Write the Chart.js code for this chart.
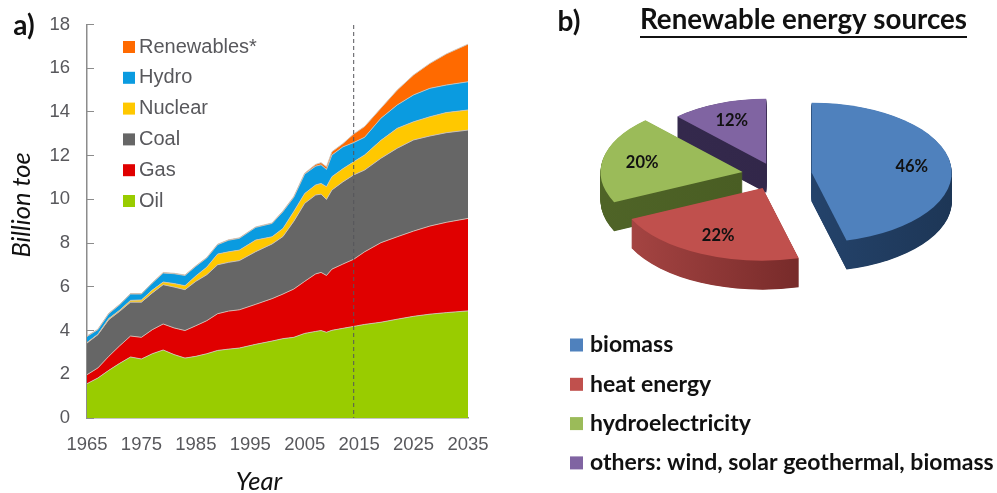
<!DOCTYPE html>
<html><head><meta charset="utf-8">
<style>html,body{margin:0;padding:0;background:#fff;overflow:hidden}
canvas{position:absolute;top:0;left:0}</style>
<script src="https://cdn.jsdelivr.net/npm/chart.js@4"></script>
</head><body>
<div style="position:absolute;left:0;top:0;width:520px;height:493px"><canvas id="a" width="520" height="493"></canvas></div>
<div style="position:absolute;left:497px;top:0;width:500px;height:493px"><canvas id="b" width="500" height="493"></canvas></div>
<script>
const years=[1965,1967,1969,1971,1973,1975,1977,1979,1981,1983,1985,1987,1989,1991,1993,1996,1999,2001,2003,2005,2007,2008,2009,2010,2012,2014,2016,2019,2022,2025,2028,2031,2035];
const oil=[1.57,1.83,2.18,2.5,2.79,2.7,2.94,3.11,2.9,2.74,2.82,2.94,3.09,3.15,3.2,3.37,3.52,3.63,3.69,3.87,3.96,4.0,3.92,4.01,4.1,4.19,4.28,4.38,4.52,4.65,4.75,4.82,4.9];
const gas=[.41,.46,.64,.8,.96,.99,1.1,1.19,1.22,1.26,1.4,1.51,1.68,1.74,1.75,1.83,1.94,2.04,2.21,2.38,2.63,2.66,2.6,2.8,2.94,3.07,3.32,3.64,3.77,3.9,4.03,4.13,4.23];
const coal=[1.45,1.52,1.68,1.58,1.55,1.61,1.68,1.8,1.87,1.87,2.03,2.1,2.24,2.23,2.25,2.41,2.5,2.63,3.1,3.57,3.61,3.58,3.48,3.62,3.76,3.86,3.74,3.86,4.05,4.17,4.12,4.1,4.04];
const nuclear=[.02,.02,.05,.05,.08,.1,.13,.12,.16,.18,.25,.35,.49,.48,.48,.53,.33,.37,.45,.45,.46,.49,.58,.61,.6,.6,.69,.82,.91,.83,.88,.92,.92];
const hydro=[.28,.21,.22,.25,.29,.27,.32,.41,.45,.47,.44,.42,.43,.53,.54,.58,.61,.77,.65,.89,.86,.85,.79,.99,1.0,.88,.81,1.01,1.07,1.23,1.3,1.26,1.29];
const renewables=[.02,.02,.02,.02,.02,.02,.02,.02,.02,.02,.02,.02,.02,.02,.02,.02,.02,.03,.03,.04,.08,.1,.12,.15,.15,.39,.49,.46,.68,.91,1.14,1.42,1.72];
const forecastYear=2014;
const pieLabels=['biomass','heat energy','hydroelectricity','others: wind, solar geothermal, biomass'];
const pieValues=[46,22,20,12];
const pieColors=['#4f81bd','#c0504d','#9bbb59','#8064a2'];
const pieSideFrom=['#2b5080','#a84644','#4f6427','#352a4e'];
const pieSideTo=['#1d3656','#5a1a1a','#43561f','#2f2445'];
const pieExplode=[37,29,33,24];
const pieRadii=[140,145,142,130];
const squash=0.5, pieDepth=29;

const grey='#58585c', edge='rgba(205,195,185,.9)';
function layer(label,data,color,fill){return{label,data,backgroundColor:color,borderColor:edge,borderWidth:1,pointRadius:0,fill,tension:0};}
function text(ctx,s,x,y,font,color,rot,align){ctx.save();ctx.translate(x,y);if(rot)ctx.rotate(rot);ctx.font=font;ctx.fillStyle=color;ctx.textAlign=align||'center';ctx.textBaseline='middle';ctx.fillText(s,0,0);ctx.restore();}

new Chart(document.getElementById('a'),{
 type:'line',
 data:{labels:years,datasets:[
  layer('Oil',oil,'#99cc00','origin'),
  layer('Gas',gas,'#e00000','-1'),
  layer('Coal',coal,'#666666','-1'),
  layer('Nuclear',nuclear,'#ffc800','-1'),
  layer('Hydro',hydro,'#0a9be0','-1'),
  layer('Renewables*',renewables,'#ff6a00','-1')]},
 options:{responsive:false,animation:false,
  layout:{padding:{top:24.5,right:52,left:0,bottom:0}},
  plugins:{tooltip:{enabled:false},legend:{display:false}},
  scales:{
   x:{type:'linear',min:1965,max:2035,
    grid:{display:false},border:{color:'#8c8c8c',width:1.5},
    ticks:{stepSize:10,autoSkip:false,maxRotation:0,padding:8,color:grey,font:{family:'Liberation Sans',size:18.5},callback:v=>String(v)},
    afterFit(s){s.height=75;}},
   y:{stacked:true,min:0,max:18,
    grid:{drawOnChartArea:false,tickLength:-7,color:'#8c8c8c'},border:{color:'#8c8c8c',width:1.5},
    ticks:{stepSize:2,padding:24,color:grey,font:{family:'Liberation Sans',size:18.5}},
    afterFit(s){s.width=87;s.paddingTop=0;s.paddingBottom=0;}}
  }},
 plugins:[{id:'panelA',
  afterDatasetsDraw(c){
   const ctx=c.ctx,x=c.scales.x.getPixelForValue(forecastYear);
   ctx.save();ctx.strokeStyle='#55555a';ctx.lineWidth=1;ctx.setLineDash([4,3]);
   ctx.beginPath();ctx.moveTo(x,25);ctx.lineTo(x,c.scales.y.getPixelForValue(0));ctx.stroke();ctx.restore();
  },
  afterDraw(c){
   const ctx=c.ctx;
   c.data.datasets.slice().reverse().forEach((d,i)=>{
    const y=47+i*30.8;
    ctx.fillStyle=d.backgroundColor;ctx.fillRect(123,y-6,12,12);
    text(ctx,d.label,139,y,'20px "Liberation Sans"',grey,0,'left');
   });
   text(ctx,'a)',24,26,'bold 28px Lato','#111');
   text(ctx,'Billion toe',22,205,'italic 25.5px Lato','#111',-Math.PI/2);
   text(ctx,'Year',259,482,'italic 25.5px Lato','#111');
  }}]
});

new Chart(document.getElementById('b'),{
 type:'pie',
 data:{labels:pieLabels,datasets:[{data:pieValues,backgroundColor:pieColors,borderWidth:0,clip:false,radius:143}]},
 options:{responsive:false,animation:false,
  layout:{padding:{left:56,right:0,top:0,bottom:143}},
  plugins:{tooltip:{enabled:false},legend:{display:false}},
 },
 plugins:[{id:'panelB',
  afterDatasetUpdate(c){
   c.getDatasetMeta(0).data.forEach((el,i)=>{
    const m=(el.startAngle+el.endAngle)/2;
    el.x+=Math.cos(m)*pieExplode[i];el.y+=Math.sin(m)*pieExplode[i];
    el.outerRadius=pieRadii[i];
   });
  },
  beforeDatasetsDraw(c){
   const ctx=c.ctx,a=c.getDatasetMeta(0).data,cy=(c.chartArea.top+c.chartArea.bottom)/2;
   c.$squashY=cy;
   ctx.save();
   ctx.translate(0,cy);ctx.scale(1,squash);ctx.translate(0,-cy);
   const D=pieDepth/squash;
   [3,2,0,1].forEach(i=>{
    const el=a[i],R=el.outerRadius;
    const g=ctx.createLinearGradient(el.x-R,0,el.x+R,0);
    g.addColorStop(0,pieSideFrom[i]);g.addColorStop(1,pieSideTo[i]);
    ctx.fillStyle=g;
    for(let d=D;d>0;d-=1){
     ctx.beginPath();ctx.moveTo(el.x,el.y+d);ctx.arc(el.x,el.y+d,R,el.startAngle,el.endAngle);ctx.closePath();ctx.fill();
    }
   });
  },
  afterDatasetsDraw(c){
   const ctx=c.ctx,a=c.getDatasetMeta(0).data,cy=c.$squashY;
   ctx.restore();
   a.forEach((el,i)=>{
    const m=(el.startAngle+el.endAngle)/2,r=el.outerRadius*.72;
    const px=el.x+Math.cos(m)*r,py=el.y+Math.sin(m)*r;
    text(ctx,pieValues[i]+'%',px,cy+(py-cy)*squash,'bold 16.5px Lato','#111');
   });
  },
  afterDraw(c){
   const ctx=c.ctx;
   pieLabels.forEach((s,i)=>{
    const y=345+i*39.3;
    ctx.fillStyle=pieColors[i];ctx.fillRect(73,y-6.5,13,13);
    text(ctx,s,93,y,'bold 23px Lato','#111',0,'left');
   });
   text(ctx,'b)',72,22,'bold 28px Lato','#111');
   text(ctx,'Renewable energy sources',306.5,20,'bold 27.7px Lato','#111');
   ctx.fillStyle='#111';ctx.fillRect(143,36,327,2);
  }}]
});
</script>
</body></html>
